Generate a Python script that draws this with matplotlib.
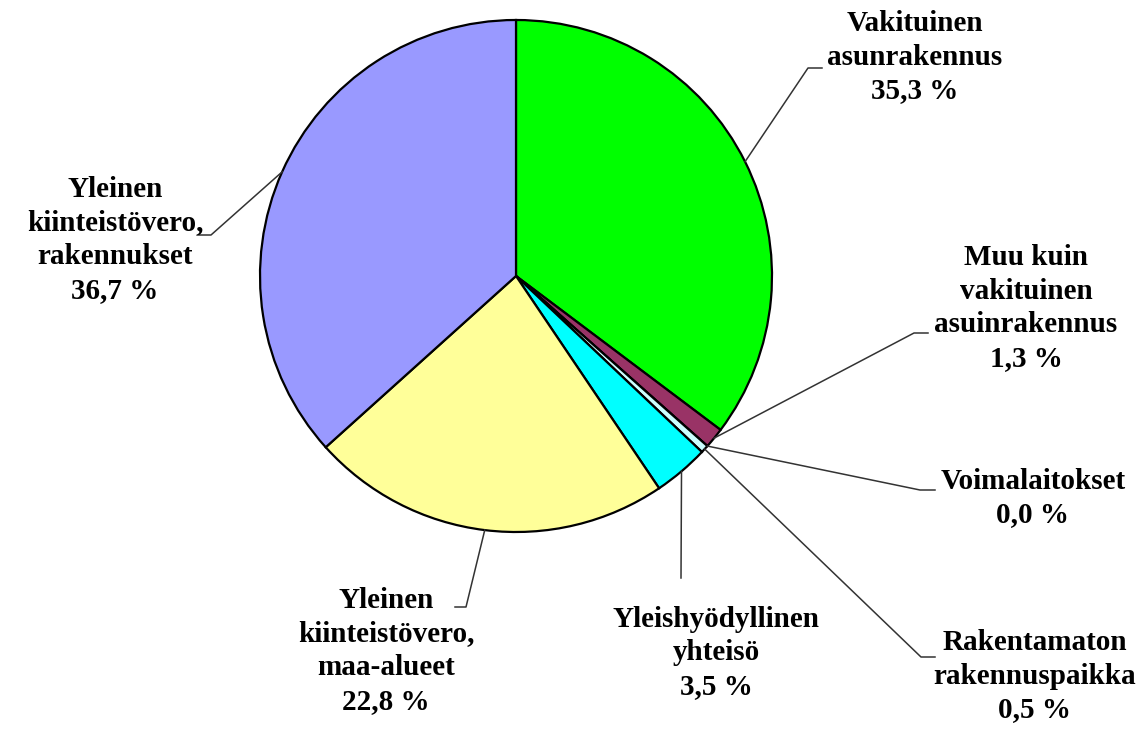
import matplotlib.pyplot as plt
import numpy as np

W, H = 1145, 729

labels = [
    "Vakituinen\nasunrakennus",
    "Muu kuin\nvakituinen\nasuinrakennus",
    "Voimalaitokset",
    "Rakentamaton\nrakennuspaikka",
    "Yleishyödyllinen\nyhteisö",
    "Yleinen\nkiinteistövero,\nmaa-alueet",
    "Yleinen\nkiinteistövero,\nrakennukset",
]
shares = [35.3, 1.3, 0.0, 0.5, 3.5, 22.8, 36.7]
colors = ["#00FF00", "#993366", "#9999FF", "#CCFFFF", "#00FFFF", "#FFFF99", "#9999FF"]

# layout in pixel coords (y down): label centre, elbow point, elbow end
label_pos = [(915, 57), (1026, 308), (1033, 498), (1035, 676), (716, 653), (386, 651), (115, 240)]
elbow = [(808, 68), (914, 333), (920, 490), (921, 657), (681, 578), (466, 607), (211, 235)]
elbow_end = [(822, 68), (928, 333), (935, 490), (935, 657), (681, 578), (455, 607), (199, 235)]

cx, cy, r = 516, 276, 256

fig = plt.figure(figsize=(W / 100, H / 100), dpi=100)
ax = fig.add_axes([0, 0, 1, 1])

wedges, _ = ax.pie(
    shares,
    colors=colors,
    startangle=90,
    counterclock=False,
    center=(cx, H - cy),
    radius=r,
    wedgeprops={"edgecolor": "black", "linewidth": 1.6},
    frame=True,
)
ax.axis("off")
ax.set_xlim(0, W)
ax.set_ylim(0, H)
ax.set_aspect("equal")

font = {"family": "Liberation Serif", "weight": "bold", "size": 21}
for w, lab, val, lp, el, ee in zip(wedges, labels, shares, label_pos, elbow, elbow_end):
    mid = np.deg2rad((w.theta1 + w.theta2) / 2)
    px = cx + r * np.cos(mid)
    py = (H - cy) + r * np.sin(mid)
    ax.plot([px, el[0], ee[0]], [py, H - el[1], H - ee[1]], color="#333333", lw=1.1)
    txt = f"{lab}\n{val:.1f} %".replace(".", ",")
    ax.text(lp[0], H - lp[1], txt, ha="center", va="center",
            linespacing=1.33, **font)

fig.savefig("out.png", dpi=100)
